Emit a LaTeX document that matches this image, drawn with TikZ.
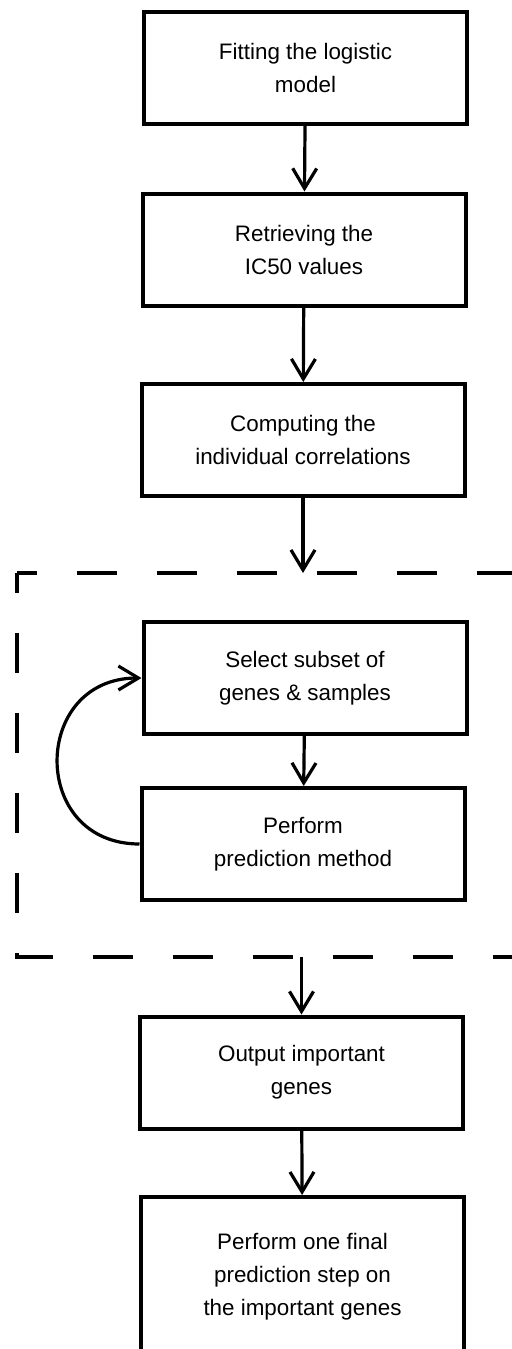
\documentclass[tikz,border=0pt]{standalone}
\usepackage{fontspec}
\setmainfont{Liberation Sans}
\usetikzlibrary{arrows.meta,positioning,calc}
\tikzset{stepbox/.style={draw,line width=2pt,minimum width=161.5pt,minimum height=56pt,inner sep=0pt,align=center,font=\fontsize{11.2}{16.5}\selectfont},flow/.style={-{Straight Barb[length=10pt,width=12pt]},line width=1.6pt},frame/.style={line width=2pt,dash pattern=on 20pt off 20pt,dash phase=10pt}}

\begin{document}
\begin{tikzpicture}[x=0.5pt,y=-0.5pt]
\useasboundingbox (0,0) rectangle (512,1349);
\node[stepbox] (fit) at (305.5,68) {Fitting the logistic\\model};
\node[stepbox] (ic50) at (304,249.5) {Retrieving the\\IC50 values};
\node[stepbox] (corr) at (303,440) {Computing the\\individual correlations};
\node[stepbox] (subset) at (305,678) {Select subset of\\genes \& samples};
\node[stepbox] (predict) at (303,844) {Perform\\prediction method};
\node[stepbox] (output) at (301.5,1072.5) {Output important\\genes};
\node[stepbox,minimum height=80pt] (final) at (302.5,1277)
 {Perform one final\\prediction step on\\the important genes};
% dashed frame round the loop
\coordinate (frametl) at (17,573);
\coordinate (framebl) at (17,957);
\draw[frame] (frametl) -- (560,573);
\draw[frame] (frametl) -- (framebl) -- (560,957);
\draw[flow] (fit) -- (ic50);
\draw[flow] (ic50) -- (corr);
\draw[flow] (corr) -- (corr.south |- frametl);
\draw[flow] (subset) -- (predict);
\draw[flow] (predict.west) to[out=180,in=180,looseness=1.7] (subset.west);
\draw[flow] (output.north |- framebl) -- (output);
\draw[flow] (output) -- (final);
\end{tikzpicture}
\end{document}
